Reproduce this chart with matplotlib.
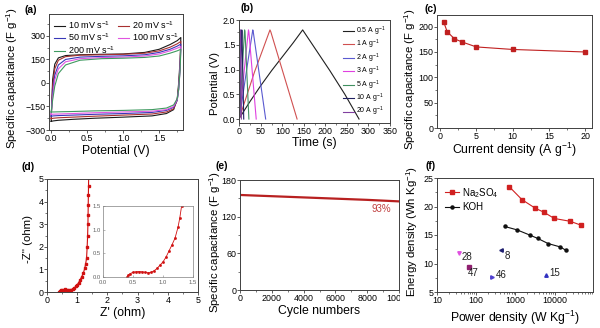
import matplotlib
matplotlib.use("Agg")
import matplotlib.pyplot as plt
from matplotlib.ticker import AutoMinorLocator, NullFormatter, LogLocator, FormatStrFormatter
from matplotlib.transforms import Bbox

plt.rcParams['font.family'] = ['Liberation Sans', 'DejaVu Sans']
plt.rcParams['mathtext.fontset'] = 'custom'
plt.rcParams['mathtext.rm'] = 'Liberation Sans'
plt.rcParams['mathtext.it'] = 'Liberation Sans:italic'
plt.rcParams['mathtext.bf'] = 'Liberation Sans:bold'

# ---------------- (a) CV data ----------------
cv_labels = ['10 mV s$^{-1}$', '20 mV s$^{-1}$', '50 mV s$^{-1}$', '100 mV s$^{-1}$', '200 mV s$^{-1}$']
cv_colors = ['#1a1a1a', '#a83030', '#3838b8', '#e055e0', '#3f9a60']
v_up = [0, 0.02, 0.05, 0.1, 0.2, 0.4, 0.7, 1.0, 1.3, 1.5, 1.65, 1.75, 1.8]
v_dn = [1.8, 1.79, 1.77, 1.75, 1.7, 1.6, 1.4, 1.0, 0.6, 0.3, 0.1, 0.03, 0.0]
cv_up_10 = [-245, 20, 120, 160, 175, 180, 183, 185, 195, 215, 245, 270, 290]
cv_dn_10 = [290, 150, 0, -100, -170, -195, -210, -218, -225, -232, -238, -242, -245]
cv_up_20 = [-228, -20, 90, 145, 168, 177, 180, 183, 190, 205, 228, 250, 265]
cv_dn_20 = [265, 120, -20, -110, -165, -185, -198, -205, -212, -218, -222, -225, -228]
cv_up_50 = [-212, -60, 50, 115, 150, 165, 170, 173, 180, 195, 215, 235, 248]
cv_dn_50 = [248, 100, -40, -110, -155, -175, -188, -195, -200, -205, -208, -210, -212]
cv_up_100 = [-200, -90, 20, 90, 135, 155, 162, 165, 172, 185, 205, 222, 232]
cv_dn_100 = [232, 90, -40, -105, -150, -170, -180, -185, -190, -195, -198, -199, -200]
cv_up_200 = [-185, -110, -20, 60, 115, 145, 155, 158, 163, 172, 190, 205, 215]
cv_dn_200 = [215, 80, -40, -100, -140, -160, -170, -175, -178, -182, -184, -185, -185]
cv_up = [cv_up_10, cv_up_20, cv_up_50, cv_up_100, cv_up_200]
cv_dn = [cv_dn_10, cv_dn_20, cv_dn_50, cv_dn_100, cv_dn_200]

# ---------------- (b) GCD data ----------------
gcd_labels = ['0.5 A g$^{-1}$', '1 A g$^{-1}$', '2 A g$^{-1}$', '3 A g$^{-1}$', '5 A g$^{-1}$', '10 A g$^{-1}$', '20 A g$^{-1}$']
gcd_colors = ['#202020', '#d05050', '#5a5ad0', '#e040e0', '#409060', '#202060', '#8040a0']
t_05 = [0, 25, 50, 75, 100, 125, 147, 150, 180, 210, 245, 278]
u_05 = [0.02, 0.36, 0.68, 0.98, 1.26, 1.54, 1.8, 1.76, 1.37, 0.98, 0.5, 0.0]
t_1 = [0, 15, 35, 55, 71, 73, 100, 134]
u_1 = [0.02, 0.42, 0.95, 1.42, 1.8, 1.76, 0.98, 0.0]
t_2 = [0, 10, 20, 31, 32, 61]
u_2 = [0.02, 0.6, 1.18, 1.8, 1.77, 0.0]
t_3 = [0, 7, 14, 21, 22, 39]
u_3 = [0.02, 0.62, 1.22, 1.8, 1.76, 0.0]
t_5 = [0, 6, 12, 13, 22]
u_5 = [0.02, 0.92, 1.8, 1.76, 0.0]
t_10 = [0, 5.5, 6, 10]
u_10 = [0.02, 1.8, 1.76, 0.0]
t_20 = [0, 2.5, 2.8, 4.5]
u_20 = [0.02, 1.8, 1.76, 0.0]
gcd_t = [t_05, t_1, t_2, t_3, t_5, t_10, t_20]
gcd_u = [u_05, u_1, u_2, u_3, u_5, u_10, u_20]

# ---------------- (c) rate data ----------------
cur_density = [0.5, 1, 2, 3, 5, 10, 20]
spec_cap = [210, 190, 176, 170, 160, 155, 150]

# ---------------- (d) EIS data ----------------
z_re = [0.40, 0.42, 0.45, 0.50, 0.55, 0.60, 0.65, 0.70, 0.75, 0.80, 0.85, 0.90, 0.95, 1.00,
        1.05, 1.10, 1.15, 1.20, 1.25, 1.28, 1.31, 1.33, 1.345, 1.355, 1.36, 1.365, 1.37, 1.375, 1.38]
z_im = [0.00, 0.04, 0.07, 0.10, 0.11, 0.115, 0.11, 0.10, 0.09, 0.10, 0.13, 0.18, 0.25, 0.32,
        0.42, 0.55, 0.68, 0.82, 1.05, 1.25, 1.50, 2.00, 2.50, 3.00, 3.40, 3.85, 4.30, 4.70, 5.10]

# ---------------- (e) cycling data ----------------
cycles = [0, 2000, 4000, 6000, 8000, 10000]
cyc_cap = [155.5, 153.5, 151.5, 149.5, 147.5, 145.0]
retention_text = '93%'

# ---------------- (f) Ragone data ----------------
na_power = [690, 1470, 3200, 5300, 9800, 25000, 48000]
na_energy = [23.5, 21.2, 19.7, 19.0, 17.9, 17.4, 16.7]
koh_power = [530, 1100, 2300, 3700, 6800, 14000, 19500]
koh_energy = [16.5, 15.9, 15.0, 14.4, 13.5, 12.9, 12.3]
ref_labels = ['28', '47', '46', '8', '15']
ref_power = [36, 65, 260, 430, 6000]
ref_energy = [11.8, 9.4, 7.7, 12.4, 8.0]
ref_colors = ['#e050e0', '#902070', '#5040d0', '#202070', '#3030c0']
ref_markers = ['v', 's', '>', '<', '^']

fig = plt.figure(figsize=(6.0, 3.28), dpi=100)
W, H = 600.0, 328.0

def add_ax(l, r, t, b):
    return fig.add_axes([l / W, 1 - b / H, (r - l) / W, (b - t) / H])

FS_T = 6.4
FS_XL = 8.8
FS_YL = 8.2
SPINE = '#404040'

def style(ax, minor=True):
    for s in ax.spines.values():
        s.set_color(SPINE)
        s.set_linewidth(0.7)
    ax.tick_params(which='major', direction='out', length=2.0, width=0.6, labelsize=FS_T,
                   color=SPINE, pad=0.6, top=False, right=False)
    ax.tick_params(which='minor', direction='out', length=1.2, width=0.5, color=SPINE,
                   top=False, right=False)
    if minor:
        ax.xaxis.set_minor_locator(AutoMinorLocator(2))
        ax.yaxis.set_minor_locator(AutoMinorLocator(2))

def labels(ax, xl, yl, xy, yx, yy=0.5):
    ax.set_xlabel(xl, fontsize=FS_XL)
    ax.set_ylabel(yl, fontsize=FS_YL)
    ax.xaxis.set_label_coords(0.5, xy)
    ax.yaxis.set_label_coords(yx, yy)
    ax.xaxis.label.set_va('center')
    ax.yaxis.label.set_va('center')

# (a)
axa = add_ax(49, 183, 14, 130)
for i in range(5):
    axa.plot(v_up + v_dn, cv_up[i] + cv_dn[i], color=cv_colors[i], lw=0.8, label=cv_labels[i])
axa.set_xlim(-0.03, 1.83)
axa.set_ylim(-300, 440)
axa.set_xticks([0.0, 0.5, 1.0, 1.5])
axa.set_yticks([-300, -150, 0, 150, 300])
style(axa)
labels(axa, 'Potential (V)', 'Specific capacitance (F g$^{-1}$)', -0.18, -0.276, 0.445)
h, l = axa.get_legend_handles_labels()
order = [0, 2, 4, 1, 3]
axa.legend([h[k] for k in order], [l[k] for k in order], ncol=2, loc='upper left', frameon=False,
           fontsize=6.5, handlelength=1.2, handletextpad=0.3, columnspacing=0.4, labelspacing=0.1,
           borderaxespad=0.15, bbox_to_anchor=(0.0, 1.0))

# (b)
axb = add_ax(239, 390, 20, 123)
for i in range(7):
    axb.plot(gcd_t[i], gcd_u[i], color=gcd_colors[i], lw=0.8, label=gcd_labels[i])
axb.set_xlim(-1, 350)
axb.set_ylim(-0.08, 2.0)
axb.set_xticks(range(0, 351, 50))
axb.set_yticks([0.0, 0.5, 1.0, 1.5, 2.0])
axb.yaxis.set_major_formatter(FormatStrFormatter('%.1f'))
style(axb)
labels(axb, 'Time (s)', 'Potential (V)', -0.19, -0.159, 0.38)
axb.legend(loc='upper right', frameon=False, fontsize=5.0, handlelength=1.6, handletextpad=0.3,
           labelspacing=0.02, borderaxespad=0.25)

# (c)
axc = add_ax(437, 592, 15, 128)
axc.plot(cur_density, spec_cap, color='#c02020', lw=0.8, marker='s', ms=2.2)
axc.set_xlim(-0.4, 20.9)
axc.set_ylim(0, 223)
axc.set_xticks([0, 5, 10, 15, 20])
axc.set_yticks([0, 50, 100, 150, 200])
style(axc)
labels(axc, 'Current density (A g$^{-1}$)', 'Specific capacitance (F g$^{-1}$)', -0.195, -0.175, 0.43)

# (d)
axd = add_ax(47, 198, 179, 292)
axd.plot(z_re, z_im, color='#d01010', lw=0.8, marker='s', ms=1.8)
axd.set_xlim(0, 5)
axd.set_ylim(0, 5)
axd.set_xticks(range(6))
axd.set_yticks(range(6))
style(axd)
labels(axd, "Z' (ohm)", "-Z'' (ohm)", -0.186, -0.126, 0.47)
axi = add_ax(103, 193, 206, 277)
axi.plot(z_re, z_im, color='#d01010', lw=0.6, marker='s', ms=0.9)
axi.set_xlim(0, 1.5)
axi.set_ylim(0, 1.5)
axi.set_xticks([0.0, 0.5, 1.0, 1.5])
axi.set_yticks([0.0, 0.5, 1.0, 1.5])
for s in axi.spines.values():
    s.set_color('#808080')
    s.set_linewidth(0.5)
axi.tick_params(which='major', direction='in', length=1.5, width=0.4, labelsize=4.2, pad=1.8,
                color='#808080', labelcolor='#606060')
axi.xaxis.set_major_formatter(FormatStrFormatter('%.1f'))
axi.yaxis.set_major_formatter(FormatStrFormatter('%.1f'))

# (e)
axe = add_ax(240, 399, 180, 290)
axe.plot(cycles, cyc_cap, color='#b82020', lw=1.6)
axe.set_xlim(0, 10000)
axe.set_ylim(0, 180)
axe.set_xticks(range(0, 10001, 2000))
axe.set_yticks([0, 60, 120, 180])
style(axe)
axe.text(8870, 132, retention_text, color='#c04040', fontsize=7, ha='center', va='center')
labels(axe, 'Cycle numbers', 'Specific capacitance (F g$^{-1}$)', -0.19, -0.157, 0.435)

# (f)
axf = add_ax(437, 593, 178, 292)
axf.set_xscale('log')
axf.plot(na_power, na_energy, color='#d02020', lw=0.8, marker='s', ms=2.2, label='Na$_2$SO$_4$')
axf.plot(koh_power, koh_energy, color='#101010', lw=0.8, marker='o', ms=2.2, label='KOH')
for i in range(len(ref_labels)):
    axf.plot(ref_power[i], ref_energy[i], linestyle='none', marker=ref_markers[i], ms=2.5,
             color=ref_colors[i])
label_off = [(1.15, -0.7), (0.95, -1.1), (1.25, 0.3), (1.2, -1.0), (1.2, 0.3)]
for i in range(len(ref_labels)):
    axf.text(ref_power[i] * label_off[i][0], ref_energy[i] + label_off[i][1], ref_labels[i],
             fontsize=7, ha='left', va='center', color='#202020')
axf.set_xlim(10, 95000)
axf.set_ylim(5, 25)
axf.set_xticks([10, 100, 1000, 10000])
axf.set_xticklabels(['10', '100', '1000', '10000'])
axf.set_yticks([5, 10, 15, 20, 25])
style(axf, minor=False)
axf.xaxis.set_minor_locator(LogLocator(subs=range(2, 10)))
axf.xaxis.set_minor_formatter(NullFormatter())
axf.yaxis.set_minor_locator(AutoMinorLocator(2))
labels(axf, 'Power density (W Kg$^{-1}$)', 'Energy density (Wh Kg$^{-1}$)', -0.228, -0.16, 0.53)
axf.legend(loc='upper left', frameon=False, fontsize=7, handlelength=1.5, handletextpad=0.3,
           labelspacing=0.3, borderaxespad=0.4)

# panel letters
for txt, x, y in [('(a)', 31, 10), ('(b)', 247, 8), ('(c)', 431, 9), ('(d)', 28, 167),
                  ('(e)', 222, 166), ('(f)', 431, 166)]:
    fig.text(x / W, 1 - y / H, txt, fontsize=7.5, fontweight='bold', ha='center', va='center')

# the last tick label of (e) is cut by panel (f) in the original
fig.canvas.draw()
clip = Bbox([[0, 0], [400, 328]])
for tl in axe.get_xticklabels():
    tl.set_clip_box(clip)
    tl.set_clip_on(True)

fig.savefig('out.png', dpi=100)
